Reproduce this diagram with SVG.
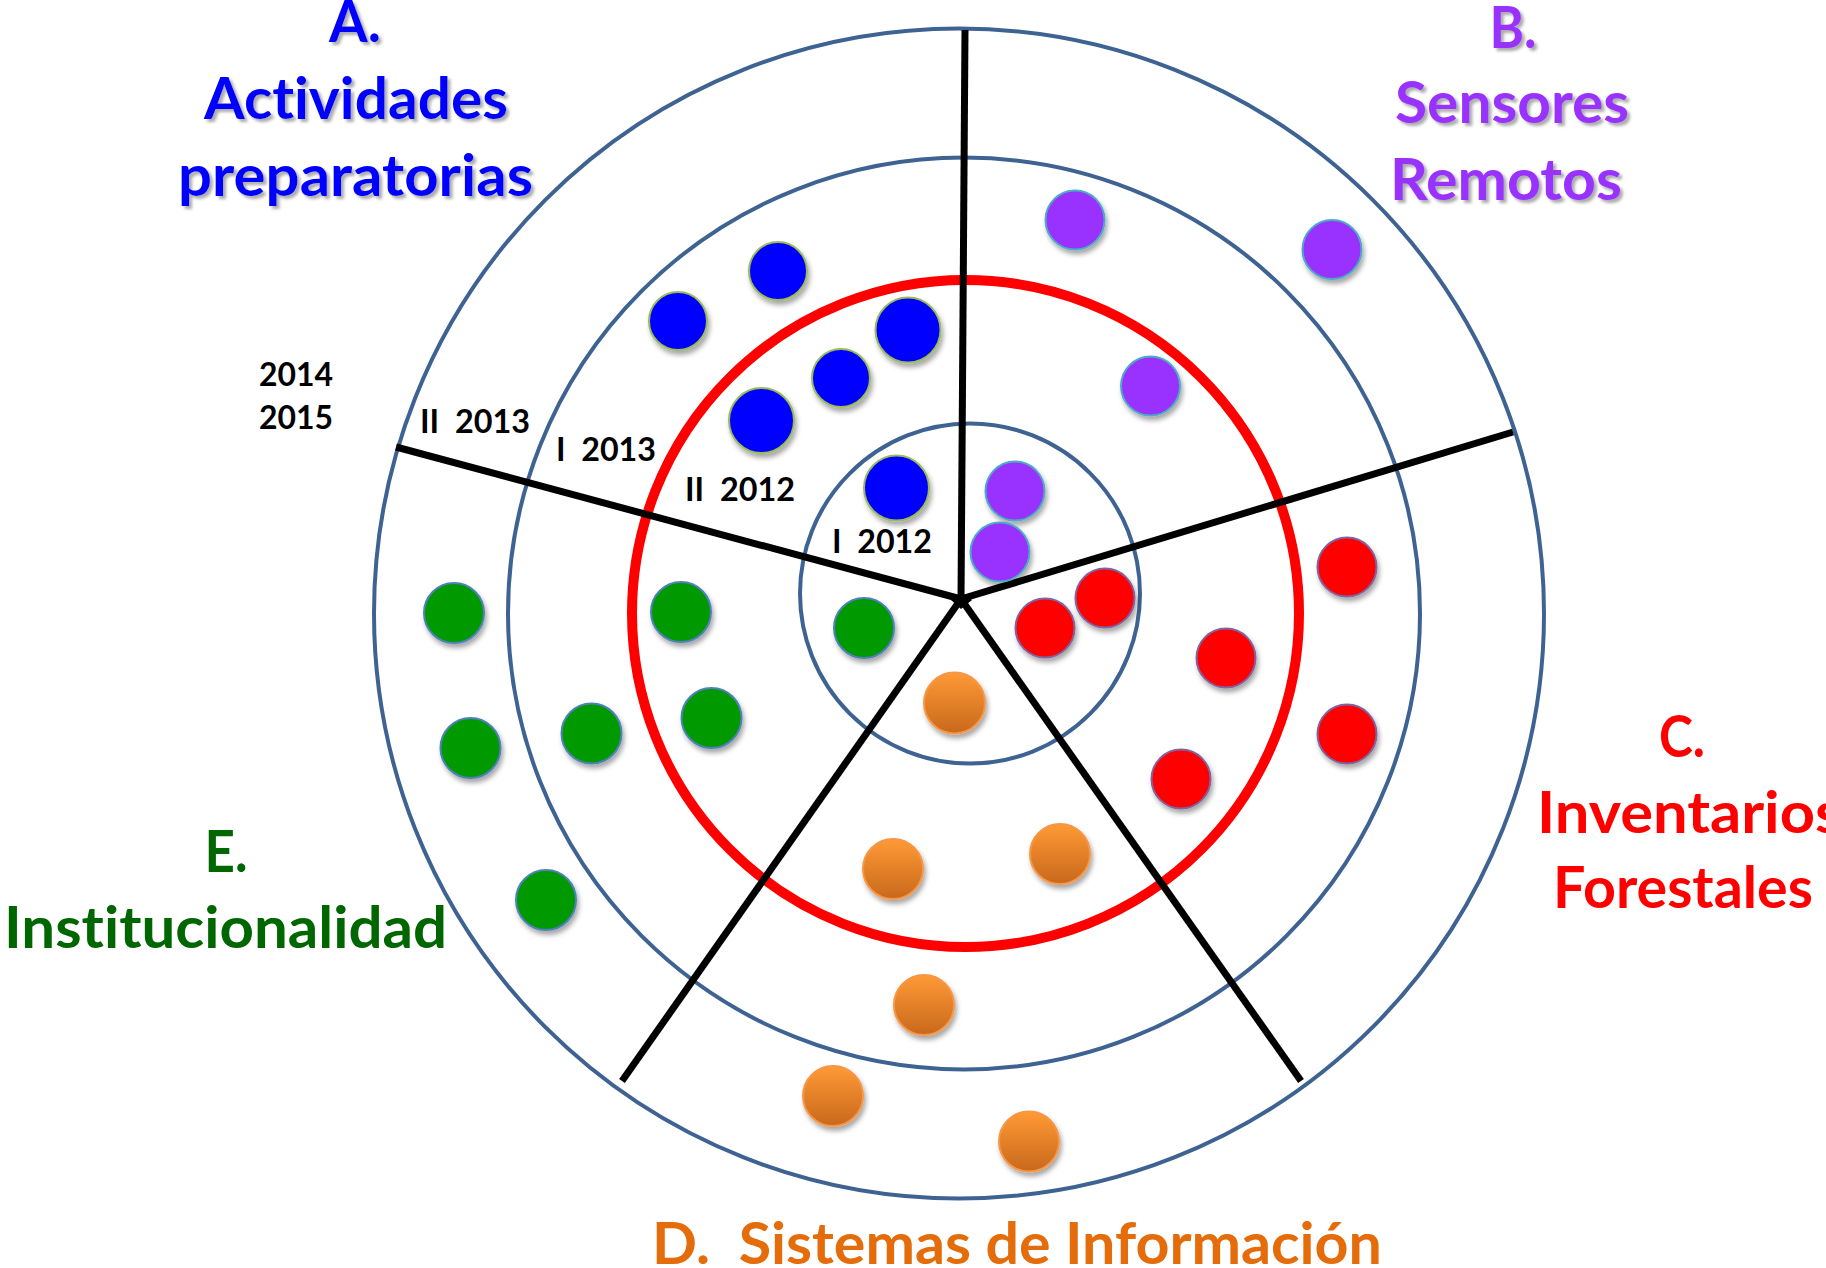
<svg xmlns="http://www.w3.org/2000/svg" width="1826" height="1268" viewBox="0 0 1826 1268">
<defs>
  <filter id="dotShadow" x="-30%" y="-30%" width="170%" height="170%">
    <feDropShadow dx="2" dy="4" stdDeviation="2.5" flood-color="#000" flood-opacity="0.35"/>
  </filter>
  <filter id="textShadow" x="-10%" y="-10%" width="120%" height="130%">
    <feDropShadow dx="3" dy="3" stdDeviation="1.5" flood-color="#7f7f7f" flood-opacity="0.65"/>
  </filter>
  <linearGradient id="orangeGrad" x1="0" y1="0" x2="0" y2="1">
    <stop offset="0" stop-color="#FF9A36"/>
    <stop offset="1" stop-color="#C8681C"/>
  </linearGradient>
</defs>
<style>
  .ring { fill: none; stroke: #3E6393; stroke-width: 4; }
  .ring-red { fill: none; stroke: #FF0000; stroke-width: 10; }
  .spoke { stroke: #000; stroke-width: 7; stroke-linecap: butt; }
  .dot { stroke-width: 2; filter: url(#dotShadow); }
  .blue { fill: #0000FF; stroke: #9BBB59; }
  .purple { fill: #9933FF; stroke: #4BACC6; }
  .red { fill: #FF0000; stroke: #8064A2; }
  .orange { fill: url(#orangeGrad); stroke: #F79646; }
  .green { fill: #009900; stroke: #4F81BD; }
  text { white-space: pre; font-variant-ligatures: none; font-feature-settings: "liga" 0, "clig" 0; }
  .title { font-family: "Lato", "Liberation Sans", sans-serif; font-weight: 700; font-size: 57px; text-anchor: middle; }
  .year { font-family: "Lato", "Liberation Sans", sans-serif; font-weight: 700; font-size: 33px; fill: #000; }
</style>
<rect width="1826" height="1268" fill="#fff"/>

<g id="rings">
  <circle class="ring" cx="959" cy="613.5" r="585"/>
  <circle class="ring" cx="964" cy="613.5" r="456"/>
  <circle class="ring-red" cx="965.5" cy="613.5" r="333.5"/>
  <circle class="ring" cx="970" cy="593.5" r="170"/>
</g>

<g id="connectors">
  <line class="spoke" x1="961" y1="599" x2="965" y2="30"/>
  <line class="spoke" x1="961" y1="599" x2="1513" y2="432"/>
  <line class="spoke" x1="961" y1="599" x2="1301" y2="1081"/>
  <line class="spoke" x1="961" y1="599" x2="622" y2="1081"/>
  <line class="spoke" x1="961" y1="599" x2="396" y2="447"/>
  <path d="M951 600 L961 592 L972 600 L961 609 Z" fill="#000"/>
</g>

<g id="period-labels" class="year">
  <text x="259" y="386" textLength="74" lengthAdjust="spacingAndGlyphs">2014</text>
  <text x="259" y="429" textLength="74" lengthAdjust="spacingAndGlyphs">2015</text>
  <text x="420" y="433" textLength="110" lengthAdjust="spacingAndGlyphs">II  2013</text>
  <text x="556" y="461" textLength="100" lengthAdjust="spacingAndGlyphs">I  2013</text>
  <text x="685" y="501" textLength="110" lengthAdjust="spacingAndGlyphs">II  2012</text>
  <text x="832" y="553" textLength="100" lengthAdjust="spacingAndGlyphs">I  2012</text>
</g>

<g id="sector-A">
  <circle class="dot blue" cx="778" cy="271" r="29"/>
  <circle class="dot blue" cx="678" cy="321" r="29"/>
  <circle class="dot blue" cx="908" cy="330" r="32.5"/>
  <circle class="dot blue" cx="841" cy="378" r="29"/>
  <circle class="dot blue" cx="761.5" cy="420.5" r="32.5"/>
  <circle class="dot blue" cx="896.5" cy="488" r="32.5"/>
  <g class="title" fill="#0000FF" filter="url(#textShadow)">
    <text x="355" y="42" textLength="52" lengthAdjust="spacingAndGlyphs">A.</text>
    <text x="356" y="119" textLength="304" lengthAdjust="spacingAndGlyphs">Actividades</text>
    <text x="355.5" y="196" textLength="355" lengthAdjust="spacingAndGlyphs">preparatorias</text>
  </g>
</g>

<g id="sector-B">
  <circle class="dot purple" cx="1075" cy="220" r="29.5"/>
  <circle class="dot purple" cx="1332" cy="249.5" r="29.5"/>
  <circle class="dot purple" cx="1150.5" cy="386" r="29.5"/>
  <circle class="dot purple" cx="1015" cy="491" r="29.5"/>
  <circle class="dot purple" cx="1000" cy="552" r="29.5"/>
  <g class="title" fill="#9933FF" filter="url(#textShadow)">
    <text x="1513" y="48" textLength="47" lengthAdjust="spacingAndGlyphs">B.</text>
    <text x="1512" y="123" textLength="234" lengthAdjust="spacingAndGlyphs">Sensores</text>
    <text x="1506" y="200" textLength="232" lengthAdjust="spacingAndGlyphs">Remotos</text>
  </g>
</g>

<g id="sector-C">
  <circle class="dot red" cx="1105" cy="598" r="29.5"/>
  <circle class="dot red" cx="1045" cy="628" r="29.5"/>
  <circle class="dot red" cx="1347" cy="567" r="29.5"/>
  <circle class="dot red" cx="1226" cy="658" r="29.5"/>
  <circle class="dot red" cx="1347" cy="734" r="29.5"/>
  <circle class="dot red" cx="1181" cy="779" r="29.5"/>
  <g class="title" fill="#FF0000">
    <text x="1682" y="757" textLength="46" lengthAdjust="spacingAndGlyphs">C.</text>
    <text x="1537" y="833" style="text-anchor:start" textLength="305" lengthAdjust="spacingAndGlyphs">Inventarios</text>
    <text x="1683" y="908" textLength="260" lengthAdjust="spacingAndGlyphs">Forestales</text>
  </g>
</g>

<g id="sector-D">
  <circle class="dot orange" cx="954.5" cy="703" r="30.5"/>
  <circle class="dot orange" cx="893" cy="869" r="30"/>
  <circle class="dot orange" cx="1060" cy="854" r="30"/>
  <circle class="dot orange" cx="924" cy="1005" r="30"/>
  <circle class="dot orange" cx="833" cy="1096" r="30"/>
  <circle class="dot orange" cx="1029" cy="1141.5" r="30"/>
  <g class="title" fill="#E46C0A">
    <text x="652" y="1264" style="text-anchor:start" textLength="730" lengthAdjust="spacingAndGlyphs">D.  Sistemas de Información</text>
  </g>
</g>

<g id="sector-E">
  <circle class="dot green" cx="454" cy="613" r="30"/>
  <circle class="dot green" cx="681" cy="612" r="30"/>
  <circle class="dot green" cx="864" cy="628" r="30"/>
  <circle class="dot green" cx="470.5" cy="748" r="30"/>
  <circle class="dot green" cx="591.5" cy="733.5" r="30"/>
  <circle class="dot green" cx="711.5" cy="718" r="30"/>
  <circle class="dot green" cx="546" cy="900" r="30"/>
  <g class="title" fill="#006600">
    <text x="226" y="872" textLength="43" lengthAdjust="spacingAndGlyphs">E.</text>
    <text x="225.5" y="948" textLength="443" lengthAdjust="spacingAndGlyphs">Institucionalidad</text>
  </g>
</g>
</svg>
